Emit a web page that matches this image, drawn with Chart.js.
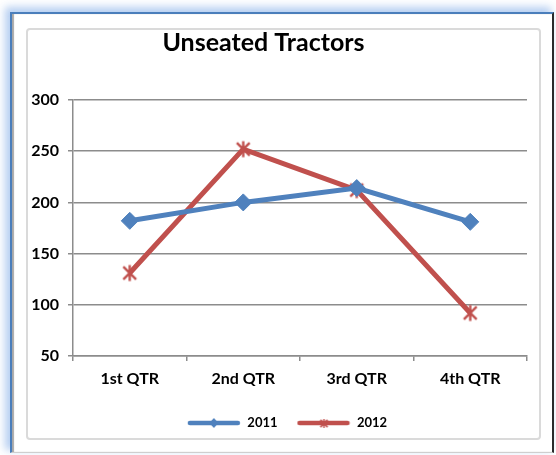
<!DOCTYPE html>
<html>
<head>
<meta charset="utf-8">
<script src="https://cdn.jsdelivr.net/npm/chart.js@4.4.0/dist/chart.umd.min.js"></script>
<style>
  html, body { margin: 0; padding: 0; background: #fff; }
  body { width: 556px; height: 455px; position: relative; overflow: hidden; }
  #frame {
    position: absolute; left: 10px; top: 12px; width: 544px; height: 441px;
    box-sizing: border-box;
    border-left: 2px solid #4a7ebb; border-top: 2px solid #4a7ebb;
    border-right: 2px solid #2b2b2b; border-bottom: 1px solid #cfcfcf;
    box-shadow: -4px -4px 8px 1px rgba(120, 165, 230, 0.55), inset 2px 0 1px #a8a8a8;
  }
  #inner {
    position: absolute; left: 26px; top: 28px; width: 515px; height: 412px;
    box-sizing: border-box; border: 2px solid #dadada; border-radius: 4px;
  }
  #wrap { position: absolute; left: 0; top: 0; width: 556px; height: 455px; }
</style>
</head>
<body>
<div id="frame"></div>
<div id="inner"></div>
<div id="wrap"><canvas id="tractorChart"></canvas></div>
<script>
  // chart data
  const chartTitle = 'Unseated Tractors';
  const quarters = ['1st QTR', '2nd QTR', '3rd QTR', '4th QTR'];
  const seriesNames = ['2011', '2012'];
  const values2011 = [182, 200, 214, 181];
  const values2012 = [131, 252, 212, 92];
  const yTicks = [50, 100, 150, 200, 250, 300];

  const blue = '#4f81bd';
  const red = '#c0504d';
  const fontFamily = 'Lato, "Open Sans", sans-serif';

  // excel style star marker: an x with a vertical bar through it
  function starMarker(color, half, lw) {
    const s = Math.ceil(half * 2 + lw + 2);
    const c = document.createElement('canvas');
    c.width = s; c.height = s;
    const g = c.getContext('2d');
    const m = s / 2;
    const d = half * 0.8;
    g.strokeStyle = color;
    g.lineWidth = lw;
    g.beginPath();
    g.moveTo(m - d, m - d); g.lineTo(m + d, m + d);
    g.moveTo(m + d, m - d); g.lineTo(m - d, m + d);
    g.moveTo(m, m - half); g.lineTo(m, m + half);
    g.stroke();
    return c;
  }

  // little line + marker picture for the legend
  function legendImage(color, marker) {
    const c = document.createElement('canvas');
    c.width = 54; c.height = 12;
    const g = c.getContext('2d');
    g.strokeStyle = color;
    g.lineWidth = 4.5;
    g.lineCap = 'round';
    g.beginPath(); g.moveTo(3, 6); g.lineTo(51, 6); g.stroke();
    if (marker === 'diamond') {
      g.fillStyle = color;
      g.beginPath(); g.moveTo(27, 1); g.lineTo(31.5, 6); g.lineTo(27, 11); g.lineTo(22.5, 6); g.closePath(); g.fill();
    } else {
      g.drawImage(starMarker(color, 4.5, 1.5), 27 - 6, 0);
    }
    return c;
  }

  // the legend sits a bit right of the title in the original
  const legendShift = {
    id: 'legendShift',
    afterLayout(chart) {
      if (!chart.legend) return;
      chart.legend.left += 23.5;
      chart.legend.right += 23.5;
    }
  };

  const ctx = document.getElementById('tractorChart').getContext('2d');

  const config = {
    type: 'line',
    data: {
      labels: quarters,
      datasets: [{
        label: seriesNames[0],
        data: values2011,
        borderColor: blue,
        backgroundColor: blue,
        borderWidth: 5,
        pointStyle: 'rectRot',
        pointRadius: 8.5,
        pointBorderWidth: 1,
        tension: 0,
      }, {
        label: seriesNames[1],
        data: values2012,
        borderColor: red,
        backgroundColor: red,
        borderWidth: 5,
        pointStyle: starMarker(red, 8, 2.4),
        pointRadius: 8,
        tension: 0,
      }],
    },
    options: {
      responsive: false,
      animation: false,
      layout: {
        padding: { left: 0, right: 29, top: 20, bottom: 15.5 },
      },
      plugins: {
        title: {
          display: true,
          text: chartTitle,
          color: '#000',
          font: { family: fontFamily, size: 25, weight: 'bold' },
          padding: { top: 8, bottom: 42 },
        },
        tooltip: { enabled: false },
        legend: {
          position: 'bottom',
          labels: {
            usePointStyle: true,
            pointStyleWidth: 54,
            padding: 19,
            color: '#000',
            font: { family: fontFamily, size: 13, weight: 'bold' },
            generateLabels(chart) {
              return chart.data.datasets.map((ds, i) => ({
                text: ds.label,
                pointStyle: legendImage(ds.borderColor, i === 0 ? 'diamond' : 'star'),
                fillStyle: ds.borderColor,
                strokeStyle: ds.borderColor,
                lineWidth: 0,
                hidden: false,
                datasetIndex: i,
              }));
            },
          },
        },
      },
      scales: {
        x: {
          offset: true,
          grid: {
            offset: true,
            drawOnChartArea: false,
            drawTicks: true,
            tickLength: 5,
            color: '#8c8c8c',
            lineWidth: 1.5,
          },
          border: { color: '#8c8c8c', width: 1.5 },
          ticks: {
            color: '#000',
            padding: 8,
            maxRotation: 0,
            font: { family: fontFamily, size: 16, weight: 'bold' },
          },
          afterFit(scale) { scale.height = 41.5; },
        },
        y: {
          min: yTicks[0],
          max: yTicks[yTicks.length - 1],
          afterBuildTicks(scale) { scale.ticks = yTicks.map(v => ({ value: v })); },
          grid: {
            color: '#8c8c8c',
            lineWidth: 1.5,
            tickLength: 5,
          },
          border: { color: '#8c8c8c', width: 1.5 },
          ticks: {
            color: '#000',
            padding: 9,
            font: { family: fontFamily, size: 16, weight: 'bold' },
          },
          afterFit(scale) { scale.width = 73; },
        },
      },
    },
    plugins: [legendShift],
  };

  const canvas = document.getElementById('tractorChart');
  canvas.width = 556;
  canvas.height = 455;
  new Chart(ctx, config);
</script>
</body>
</html>
